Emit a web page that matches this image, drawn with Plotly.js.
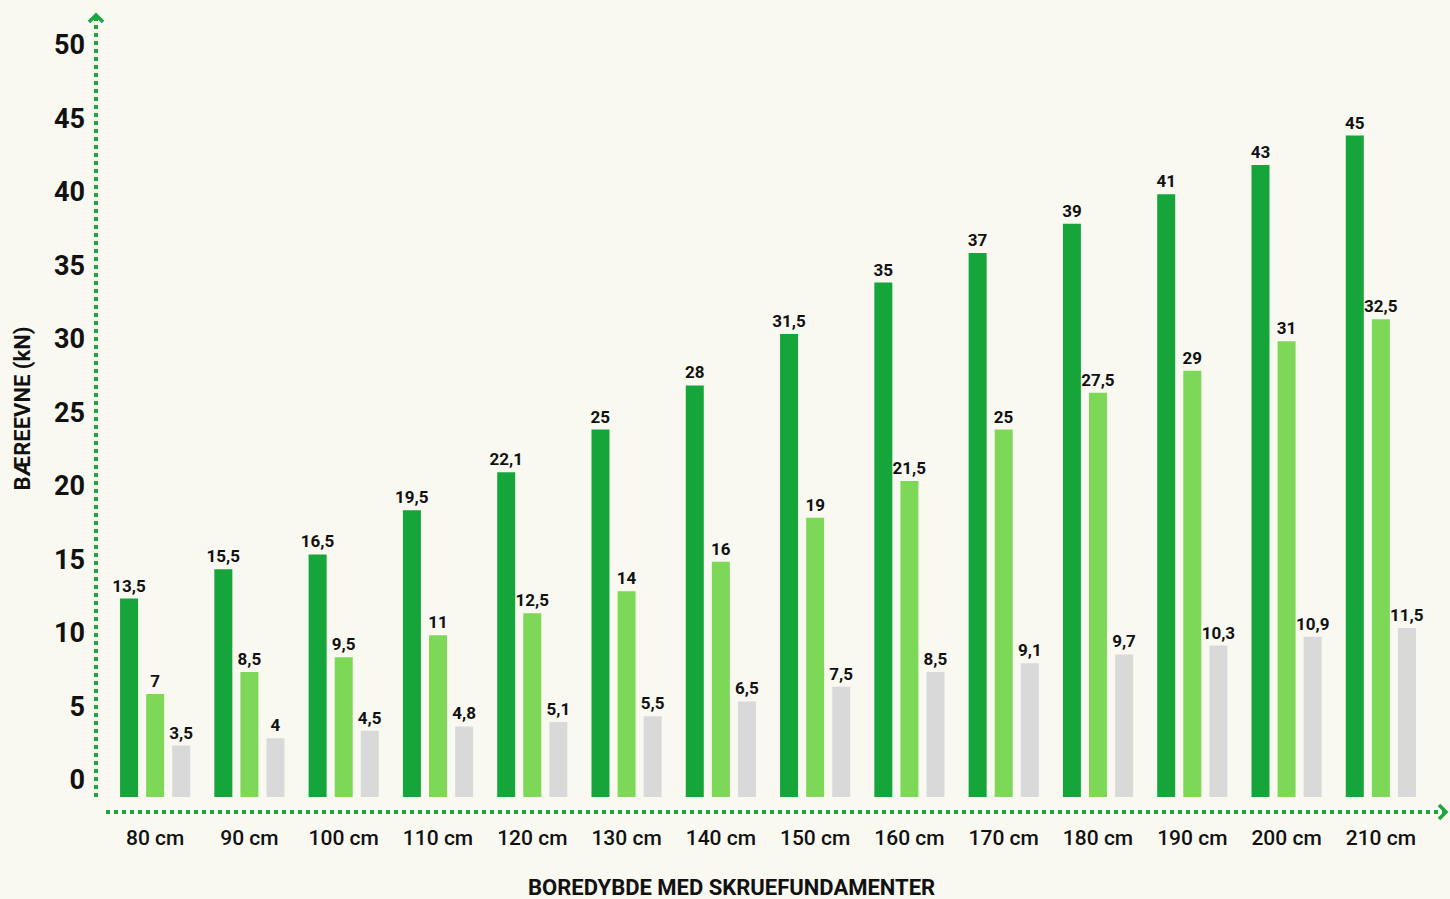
<!DOCTYPE html>
<html>
<head>
<meta charset="utf-8">
<script src="https://cdn.plot.ly/plotly-3.0.1.min.js"></script>
<style>
html,body{margin:0;padding:0;background:#f9f9f2;}
#chart{width:1450px;height:899px;}
</style>
</head>
<body>
<div id="chart"></div>
<script>
const categories = ["80 cm","90 cm","100 cm","110 cm","120 cm","130 cm","140 cm","150 cm","160 cm","170 cm","180 cm","190 cm","200 cm","210 cm"];
const seriesDark  = [13.5, 15.5, 16.5, 19.5, 22.1, 25, 28, 31.5, 35, 37, 39, 41, 43, 45];
const seriesLight = [7, 8.5, 9.5, 11, 12.5, 14, 16, 19, 21.5, 25, 27.5, 29, 31, 32.5];
const seriesGray  = [3.5, 4, 4.5, 4.8, 5.1, 5.5, 6.5, 7.5, 8.5, 9.1, 9.7, 10.3, 10.9, 11.5];
const yTicks = [0, 5, 10, 15, 20, 25, 30, 35, 40, 45, 50];
const xTitle = 'BOREDYBDE MED SKRUEFUNDAMENTER';
const yTitle = 'BÆREEVNE (kN)';

const FONT = 'Roboto, "Noto Sans", sans-serif';
const fmt = v => String(v).replace('.', ',');

function barTrace(vals, color) {
  return {
    type: 'bar', x: categories, y: vals,
    marker: {color: color},
    text: vals.map(fmt), textposition: 'outside', cliponaxis: false,
    constraintext: 'none',
    textfont: {family: FONT, size: 17, color: '#111', weight: 700},
    hoverinfo: 'skip'
  };
}

const data = [
  barTrace(seriesDark, '#15a53a'),
  barTrace(seriesLight, '#7ed858'),
  barTrace(seriesGray, '#d9d9d9')
];

const G = '#1aa73e';
const layout = {
  width: 1450, height: 899,
  paper_bgcolor: '#f9f9f2', plot_bgcolor: '#f9f9f2',
  margin: {l: 108, r: 22, t: 20, b: 102},
  showlegend: false,
  barmode: 'group', bargap: 0.17, bargroupgap: 0.31,
  xaxis: {
    type: 'category', range: [-0.5, 13.5],
    showgrid: false, zeroline: false, showline: false, ticks: '',
    ticklabelstandoff: 26,
    tickfont: {family: FONT, size: 21, color: '#111', weight: 500}
  },
  yaxis: {
    range: [0, 777/14.7],
    tickvals: yTicks, ticktext: yTicks.map(String),
    showgrid: false, zeroline: false, showline: false, ticks: '',
    ticklabelshift: -17, ticklabelstandoff: 22,
    tickfont: {family: FONT, size: 27, color: '#111', weight: 700},
    title: {text: yTitle, standoff: 17,
            font: {family: FONT, size: 22, color: '#111', weight: 700}}
  },
  annotations: [
    {text: xTitle, xref: 'paper', yref: 'paper',
     x: (731-108)/1320, y: (797-887)/777, xanchor: 'center', yanchor: 'middle',
     showarrow: false, font: {family: FONT, size: 22, color: '#111', weight: 700}}
  ],
  shapes: [
    {type: 'line', xref: 'paper', yref: 'paper',
     x0: -12/1320, x1: -12/1320, y0: 0, y1: (797-16)/777,
     line: {color: G, width: 4, dash: '4px,4px'}},
    {type: 'line', xref: 'paper', yref: 'paper',
     x0: -2/1320, x1: (1444-108)/1320, y0: -15/777, y1: -15/777,
     line: {color: G, width: 4, dash: '4px,4px'}},
    {type: 'path', xref: 'paper', yref: 'paper',
     xsizemode: 'pixel', ysizemode: 'pixel',
     xanchor: -12/1320, yanchor: (797-15)/777,
     path: 'M -7,-7 L 0,0 L 7,-7',
     line: {color: G, width: 3.5}},
    {type: 'path', xref: 'paper', yref: 'paper',
     xsizemode: 'pixel', ysizemode: 'pixel',
     xanchor: (1446-108)/1320, yanchor: -15/777,
     path: 'M -7,7 L 0,0 L -7,-7',
     line: {color: G, width: 3.5}}
  ]
};

Plotly.newPlot('chart', data, layout, {displayModeBar: false, staticPlot: true});
</script>
</body>
</html>
